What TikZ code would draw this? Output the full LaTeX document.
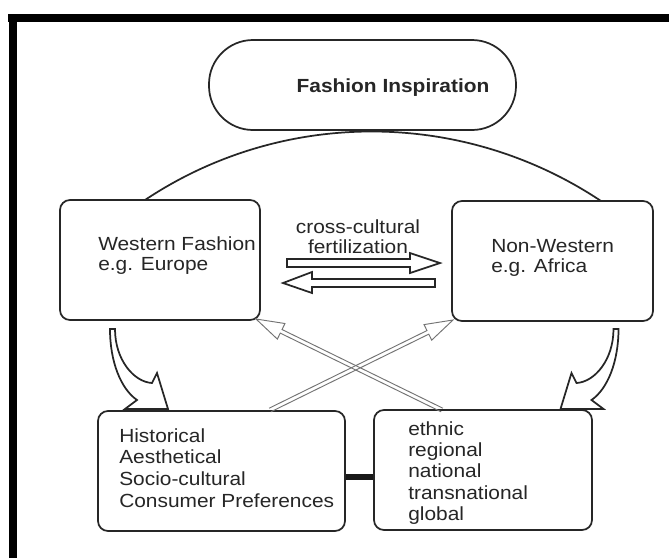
\documentclass[tikz,border=0pt]{standalone}
\usepackage{fontspec}
\setmainfont[FakeStretch=1.1]{Liberation Sans}
\usetikzlibrary{calc}
\newcommand{\crossarr}[2]{%
  \coordinate (xb) at ($(#2)!21pt!(#1)$);
  \draw[xarr] ($(#1)!1.5pt!90:(#2)$) -- ($(xb)!1.5pt!90:(#2)$) -- ($(xb)!6.5pt!90:(#2)$) -- (#2)
     -- ($(xb)!6.5pt!-90:(#2)$) -- ($(xb)!1.5pt!-90:(#2)$) -- ($(#1)!1.5pt!-90:(#2)$);
}
\begin{document}
\begin{tikzpicture}[x=0.75pt,y=-0.75pt,
  box/.style={draw=black!85, line width=1.3pt, rounded corners=7.5pt, fill=white, inner sep=0},
  txt/.style={inner sep=0, anchor=north west, align=left, text=black!85},
  blk/.style={draw=black!85, line width=1.3pt, fill=white, line join=miter},
  xarr/.style={draw=black!55, line width=0.7pt, line join=miter}]
\useasboundingbox (0,0) rectangle (669,558);
\fill[white] (0,0) rectangle (669,558);
\fill[black] (8,14) rectangle (669,22);
\fill[black] (9,14) rectangle (17,558);

% top arc
\coordinate (arcL) at (145,200);
\coordinate (arcR) at (601,201);
\draw[draw=black!85, line width=1.3pt] (arcL) .. controls (283,108) and (463,109) .. (arcR);

% stadium
\node[box, rounded corners=33pt, minimum width=230.25pt, minimum height=67.5pt] (fi) at (362.5,85) {};
\node[inner sep=0, anchor=base, text=black!85, font=\bfseries\fontsize{14.25}{15}\selectfont] (fit) at (393,92) {Fashion Inspiration};

% boxes
\node[box, minimum width=150pt, minimum height=90pt] (wf) at (160,260) {};
\node[box, minimum width=150.75pt, minimum height=90pt] (nw) at (552.5,261) {};
\node[box, minimum width=185.25pt, minimum height=90pt] (hi) at (221.5,471) {};
\node[box, minimum width=163.5pt, minimum height=90pt] (et) at (483,470) {};

% texts
\node[txt, font=\fontsize{14.25}{15}\selectfont] (wft) at (98,236) {Western Fashion\\e.g. Europe};
\node[txt, font=\fontsize{14.25}{15}\selectfont] (nwt) at (491,239) {Non-Western\\e.g. Africa};
\node[inner sep=0, anchor=north, align=center, text=black!85, font=\fontsize{14.25}{15}\selectfont] (cct) at (358,219) {cross-cultural\\fertilization};
\node[txt, font=\fontsize{14.25}{16.25}\selectfont] (hit) at (119,428) {Historical\\Aesthetical\\Socio-cultural\\Consumer Preferences};
\node[txt, font=\fontsize{14.25}{16}\selectfont] (ett) at (408,421) {ethnic\\regional\\national\\transnational\\global};

% thick connector
\draw[line width=4.5pt, black!90] (hi.east |- 0,477) -- (et.west |- 0,477);

% horizontal block arrows
\draw[blk] (287,259) -- (410,259) -- (410,253) -- (440,263) -- (410,273) -- (410,267) -- (287,267) -- cycle;
\draw[blk] (435,279) -- (312,279) -- (312,272) -- (283,283) -- (312,293) -- (312,287) -- (435,287) -- cycle;

% curved block arrows
\draw[blk] (110,329) .. controls (110,362) and (121,389) .. (137,400) -- (125,409) -- (168,409) -- (157,373) -- (152,383)
   .. controls (134,382) and (115,360) .. (115,329) -- cycle;
\draw[blk] (618.5,329) .. controls (618.5,362) and (607.5,389) .. (591.5,400) -- (603.5,409) -- (560.5,409) -- (571.5,373) -- (576.5,383)
   .. controls (594.5,382) and (613.5,360) .. (613.5,329) -- cycle;

% crossing arrows
\coordinate (ta) at (270,410);
\coordinate (ha) at (453,320);
\coordinate (tb) at (442,410);
\coordinate (hb) at (256,319);
\crossarr{ta}{ha}
\crossarr{tb}{hb}
\end{tikzpicture}
\end{document}
